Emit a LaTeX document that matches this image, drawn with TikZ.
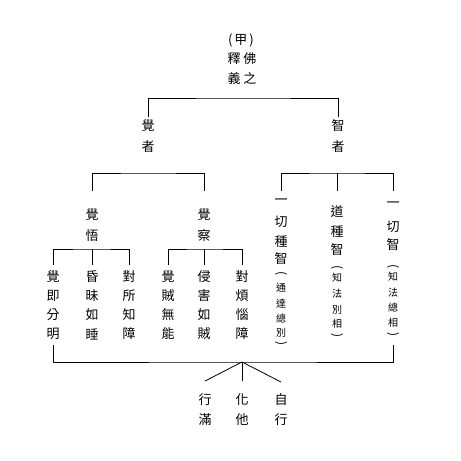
\documentclass[tikz,border=0pt]{standalone}
\usepackage{fontspec}
\newfontfamily\cjk{Noto Sans CJK TC}
\tikzset{
  ch/.style={inner sep=0pt, font=\cjk\fontsize{13}{13}\selectfont},
  sm/.style={inner sep=0pt, font=\cjk\fontsize{10}{10}\selectfont},
  pr/.style={inner sep=0pt, rotate=-90, font=\cjk\fontsize{12}{12}\selectfont},
  ln/.style={line width=0.8pt, black},
}
\begin{document}
\begin{tikzpicture}[x=1pt,y=-1pt]
\useasboundingbox[fill=white] (0,0) rectangle (461,461);
% title
\node[ch] (t1) at (241,40) {(\hspace{2pt}甲\hspace{2pt})};
\node[ch] (t2) at (242,59) {釋\hspace{3pt}佛};
\node[ch] (t3) at (242,79) {義\hspace{3pt}之};
% level 1
\node[ch] (a1) at (148,126) {覺};
\node[ch] (a2) at (148,147) {者};
\node[ch] (b1) at (338,126) {智};
\node[ch] (b2) at (338,147) {者};
% level 2 left
\node[ch] (c1) at (92,215) {覺};
\node[ch] (c2) at (92,236) {悟};
\node[ch] (d1) at (204,215) {覺};
\node[ch] (d2) at (204,236) {察};
% leaves
\foreach \x/\n/\l in {53/p/{覺,即,分,明},92/q/{昏,昧,如,睡},129/r/{對,所,知,障},168/s/{覺,賊,無,能},204/u/{侵,害,如,賊},242/v/{對,煩,惱,障}}{
  \foreach \c [count=\i] in \l {
    \pgfmathsetmacro\yy{277+19*(\i-1)}
    \node[ch] (\n\i) at (\x,\yy) {\c};
  }
}
% right columns
\foreach \y/\c [count=\i] in {202/一,222/切,242/種,259/智}{\node[ch] (A\i) at (281,\y) {\c};}
\foreach \y/\c [count=\i] in {288/通,304/達,319/總,333/別}{\node[sm] (Ap\i) at (281,\y) {\c};}
\node[pr] (Ao) at (281,274) {(};
\node[pr] (Ac) at (281,344) {)};
\foreach \y/\c [count=\i] in {212/道,232/種,250/智}{\node[ch] (B\i) at (337,\y) {\c};}
\foreach \y/\c [count=\i] in {278/知,294/法,310/別,324/相}{\node[sm] (Bp\i) at (337,\y) {\c};}
\node[pr] (Bo) at (337,268) {(};
\node[pr] (Bc) at (337,336) {)};
\foreach \y/\c [count=\i] in {205/一,227/切,245/智}{\node[ch] (C\i) at (393,\y) {\c};}
\foreach \y/\c [count=\i] in {277/知,293/法,308/總,323/相}{\node[sm] (Cp\i) at (393,\y) {\c};}
\node[pr] (Co) at (393,267) {(};
\node[pr] (Cc) at (393,335) {)};
% bottom
\node[ch] (e1) at (205,400) {行};
\node[ch] (e2) at (205,420) {滿};
\node[ch] (f1) at (242,400) {化};
\node[ch] (f2) at (242,420) {他};
\node[ch] (g1) at (281,400) {自};
\node[ch] (g2) at (281,420) {行};
% coordinates
\coordinate (top) at (243,98);
\coordinate (hub) at (242,362);
% connectors
\draw[ln] (148,117) |- (top) -| (338,117);
\draw[ln] (92,191) |- (148,173) -| (204,191);
\draw[ln] (281,191) |- (337,173) -| (393,191);
\draw[ln] (337,173) -- (337,191);
\draw[ln] (53,265) |- (92,249) -| (129,265);
\draw[ln] (92,249) -- (92,265);
\draw[ln] (168,265) |- (204,249) -| (242,265);
\draw[ln] (204,249) -- (204,265);
\draw[ln] (53,345) |- (hub) -| (393,345);
\draw[ln] (hub) -- (205,381);
\draw[ln] (hub) -- (242,381);
\draw[ln] (hub) -- (281,382);
\end{tikzpicture}
\end{document}
